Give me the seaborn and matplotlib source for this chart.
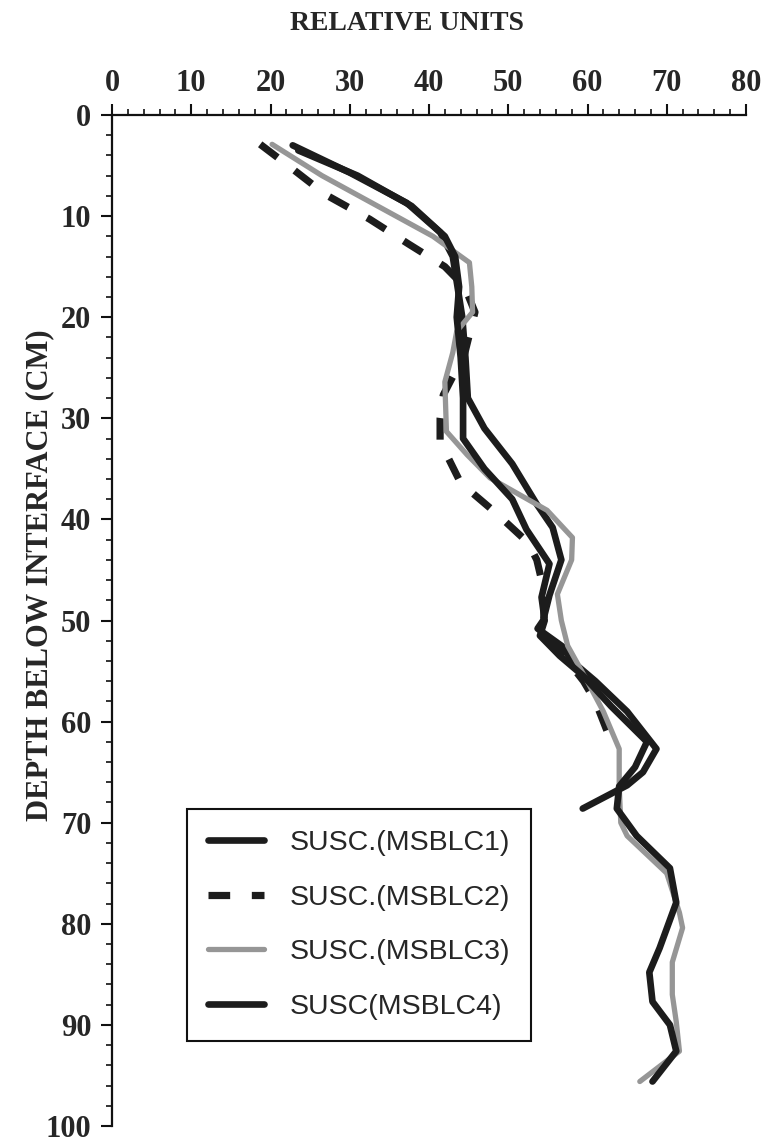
import numpy as np
import pandas as pd
import matplotlib
matplotlib.use("Agg")
import matplotlib.pyplot as plt
import seaborn as sns
from matplotlib.ticker import MultipleLocator

sns.set_style("ticks")
plt.rcParams['font.family'] = ['Liberation Serif', 'DejaVu Serif']

# depth (cm) and relative units
depth1 = [3, 5.7, 8.7, 11.6, 14, 17, 20, 24, 28, 31, 34.5, 38.5, 40.8, 44, 47.5,
          50, 50.8, 52.6, 54, 56, 59, 62.7, 65, 66.3, 68.6]
susc1 = [22.8, 30, 37.2, 41.4, 43, 43.6, 44.2, 44.6, 44.9, 47, 50.5, 53.6, 55.6, 56.7, 55.2,
         54.4, 53.7, 56.9, 58, 61, 65, 68.7, 67, 65, 59.4]

depth2 = [2.9, 5.1, 7.9, 10.3, 12.8, 15, 17, 19.5, 23.6, 27.7, 30, 32.3, 36.4, 39.4,
          42.3, 44, 47, 50, 52, 54, 56, 58, 60, 62]
susc2 = [18.7, 22.4, 27, 32.5, 37.5, 42, 44.5, 45.8, 44.5, 41.8, 41.4, 41.4, 44, 48.5,
         52.5, 53.6, 54.5, 54.5, 55.5, 57.5, 59.5, 61, 62, 63]

depth3 = [2.9, 6, 9, 12, 14.6, 17, 19.5, 21.4, 23.5, 26.4, 31.3, 33.6, 35.9, 39.1, 41.8,
          44, 47.4, 50, 52.5, 55.9, 59, 62.7, 66.4, 70, 71.3, 75, 78.9, 80.4, 83.8, 87,
          89.7, 92.6, 95.6]
susc3 = [20.2, 26.5, 33.5, 40.5, 45.1, 45.4, 45.5, 43.5, 43, 42, 42.2, 44.8, 47.7, 54.9, 58.1,
         58, 56.2, 56.7, 57.5, 59.9, 62, 64, 64, 64.2, 65, 70, 71.6, 72, 70.7, 70.7,
         71.2, 71.6, 66.6]

depth4 = [3.5, 6, 9, 12, 14, 17, 20, 24, 28, 32, 35, 38, 41, 44.4, 47.7, 50, 51.5, 53.5,
          55.5, 58.5, 62, 64.5, 66.4, 68.6, 71.3, 74.5, 77.9, 82.4, 84.8, 87.7, 90, 92.6, 95.6]
susc4 = [23.5, 31, 37.8, 42, 43.3, 43.8, 43.5, 44, 44.3, 44.3, 47, 50.5, 52.3, 55.2, 54.2, 54.6,
         54, 56.5, 59.5, 63, 67.5, 66, 64, 63.7, 66.2, 70.4, 71.2, 69.1, 67.8, 68.2, 70.4, 71.2, 68.2]

labels = ['SUSC.(MSBLC1)', 'SUSC.(MSBLC2)', 'SUSC.(MSBLC3)', 'SUSC(MSBLC4)']

fig = plt.figure(figsize=(7.67, 11.43), dpi=100)
ax = fig.add_axes([112/767, 1 - 1126/1143, (746 - 112)/767, (1126 - 115)/1143])

sns.lineplot(x=susc1, y=depth1, sort=False, estimator=None, ax=ax,
             color='#1c1c1c', lw=4.8, label=labels[0])
sns.lineplot(x=susc2, y=depth2, sort=False, estimator=None, ax=ax,
             color='#1c1c1c', lw=5.2, label=labels[1])
ax.lines[-1].set_dashes((3, 3))
sns.lineplot(x=susc3, y=depth3, sort=False, estimator=None, ax=ax,
             color='#969696', lw=3.8, label=labels[2])
sns.lineplot(x=susc4, y=depth4, sort=False, estimator=None, ax=ax,
             color='#1c1c1c', lw=4.8, label=labels[3])

ax.set_xlim(0, 80)
ax.set_ylim(100, 0)
ax.xaxis.tick_top()
ax.xaxis.set_major_locator(MultipleLocator(10))
ax.xaxis.set_minor_locator(MultipleLocator(2))
ax.yaxis.set_major_locator(MultipleLocator(10))
ax.yaxis.set_minor_locator(MultipleLocator(2))
ax.spines['right'].set_visible(False)
ax.spines['bottom'].set_visible(False)
for s in ['top', 'left']:
    ax.spines[s].set_linewidth(1.6)
    ax.spines[s].set_color('#111111')
ax.tick_params(which='major', length=8, width=1.5, color='#111111', labelsize=22)
ax.tick_params(axis='x', which='major', pad=4)
ax.tick_params(axis='y', which='major', pad=7)
ax.tick_params(which='minor', length=4.5, width=1.2, color='#111111')
for t in ax.get_xticklabels() + ax.get_yticklabels():
    t.set_fontweight('bold')
ax.set_xlabel('')
ax.set_ylabel('')

fig.text(407/767, 1 - 24/1143, 'RELATIVE UNITS', ha='center', va='center',
         fontsize=20, fontweight='bold')
fig.text(40/767, 1 - 575/1143, 'DEPTH BELOW INTERFACE (CM)', ha='center', va='center',
         rotation=90, fontsize=22, fontweight='bold')

leg = ax.legend(loc='upper left', bbox_to_anchor=(0.118, 0.3137), frameon=True,
                fancybox=False, edgecolor='#111111', framealpha=1,
                prop={'family': 'Liberation Sans', 'size': 20.5},
                handlelength=1.95, handletextpad=0.9, labelspacing=1.0,
                borderpad=0.75, borderaxespad=0)
leg.get_frame().set_linewidth(1.5)

fig.savefig('out.png', dpi=100)
